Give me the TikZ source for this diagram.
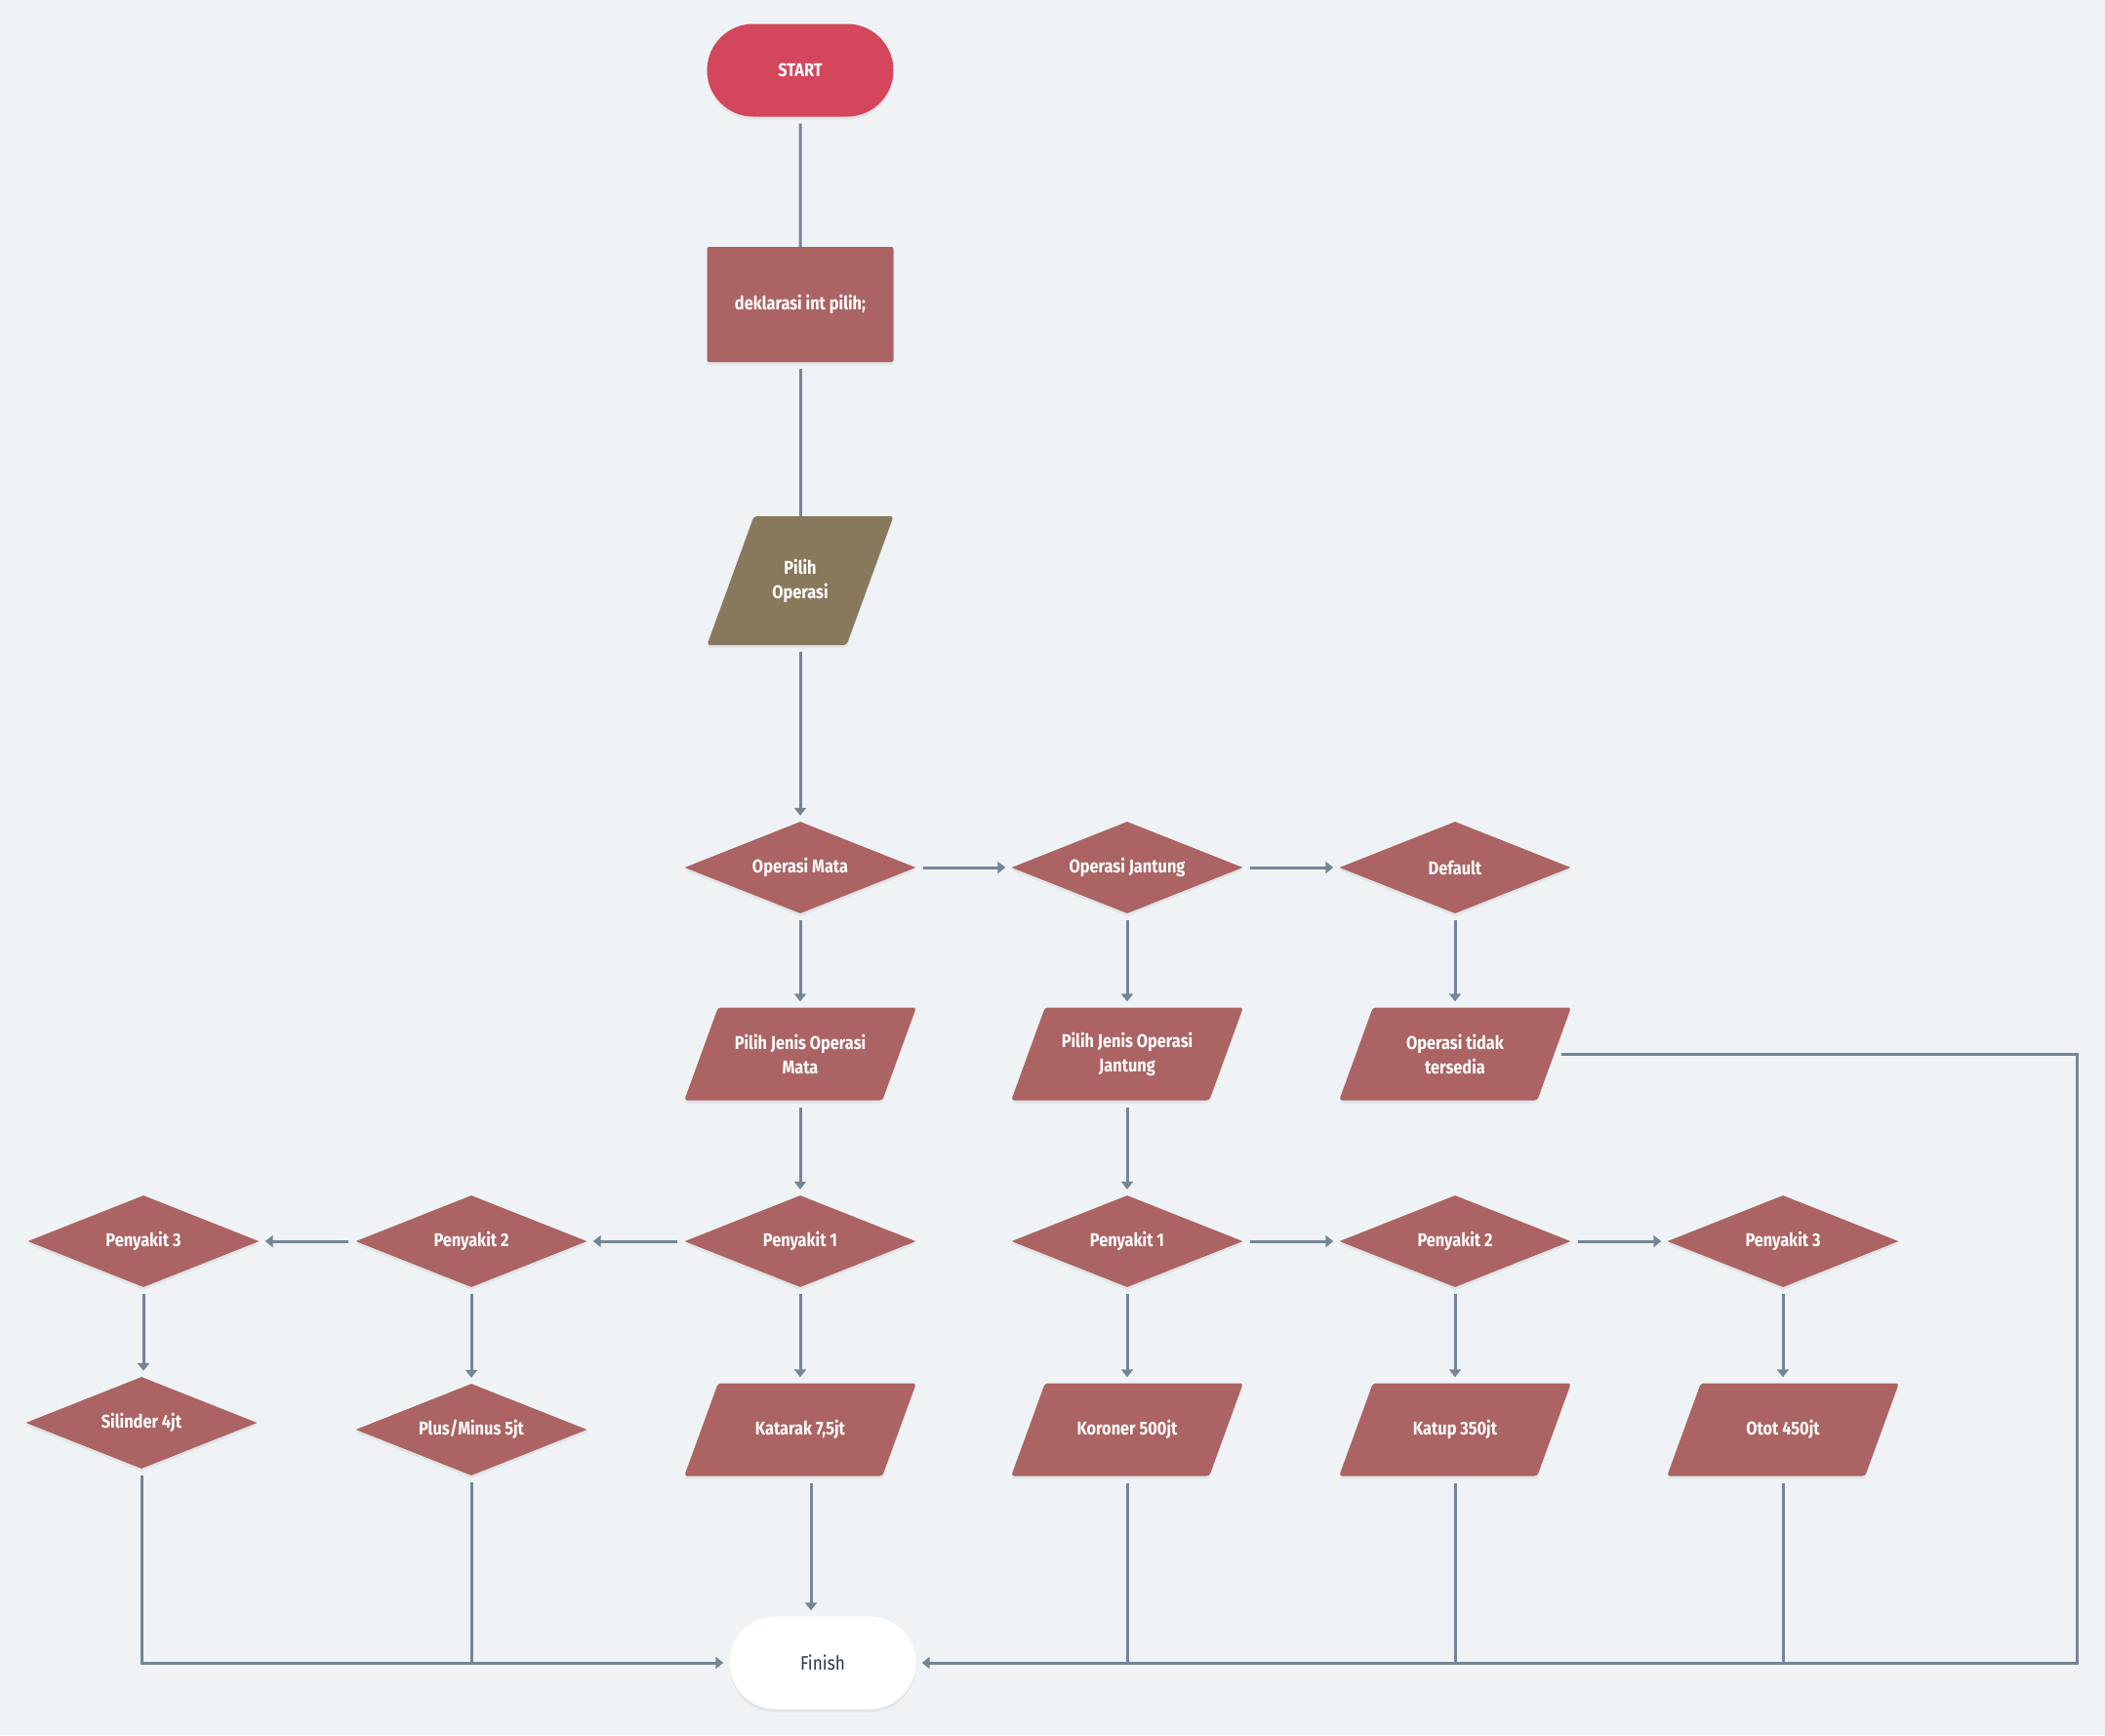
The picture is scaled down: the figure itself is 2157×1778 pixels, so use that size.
\documentclass[tikz,border=0pt]{standalone}
\usepackage{fontspec}
\newfontfamily\lblfont[FakeStretch=0.86]{Fira Sans}
\usetikzlibrary{shapes.geometric,shapes.misc,arrows.meta,shadows}

\definecolor{bgcol}{HTML}{EFF3F6}
\definecolor{boxcol}{HTML}{AB6363}
\definecolor{startcol}{HTML}{D4465C}
\definecolor{inputcol}{HTML}{88785C}
\definecolor{linecol}{HTML}{748596}
\definecolor{darktext}{HTML}{2B3A47}

% slanted input/output box: fill colour, name, x, y, width at mid height, height, text
\newcommand\paranode[7]{%
  \fill[#1, rounded corners=3pt, boxshadow]
    (#3-#5/2+0.182*#6, #4-#6/2) -- (#3+#5/2+0.182*#6, #4-#6/2) --
    (#3+#5/2-0.182*#6, #4+#6/2) -- (#3-#5/2-0.182*#6, #4+#6/2) -- cycle;
  \node[lbl, minimum width=#5, minimum height=#6] (#2) at (#3,#4) {#7};%
}

\begin{document}
\begin{tikzpicture}[x=1pt,y=-1pt,
  boxshadow/.style={drop shadow={opacity=0.12, shadow xshift=0pt, shadow yshift=-3pt}},
  lbl/.style={text=white, align=center, inner sep=0pt, rectangle,
    font=\lblfont\bfseries\fontsize{19}{25}\selectfont},
  base/.style={lbl, boxshadow},
  terminal/.style={base, rounded rectangle, minimum width=191, minimum height=95},
  procbox/.style={base, rectangle, rounded corners=2pt, fill=boxcol,
    minimum width=191, minimum height=118},
  decision/.style={base, diamond, aspect=2.5, fill=boxcol,
    minimum width=237, minimum height=94},
  link/.style={draw=linecol, line width=3pt, shorten <=7pt},
  arr/.style={link, -{Triangle[width=12pt,length=8pt]}, shorten >=6pt}
]
\fill[bgcol] (0,0) rectangle (2157,1778);
\useasboundingbox (0,0) rectangle (2157,1778);

% main column
\node[terminal, fill=startcol] (start) at (820,72) {START};
\node[procbox] (decl) at (820,312) {deklarasi int pilih;};
\paranode{inputcol}{pilih}{820}{595}{143}{132}{Pilih\\Operasi}

% case row
\node[decision] (om) at (820,889) {Operasi Mata};
\node[decision] (oj) at (1155,889) {Operasi Jantung};
\node[decision] (df) at (1491,889) {Default};

\paranode{boxcol}{pm}{820}{1080}{203}{95}{Pilih Jenis Operasi\\Mata}
\paranode{boxcol}{pj}{1155}{1080}{203}{95}{Pilih Jenis Operasi\\Jantung}
\paranode{boxcol}{ot}{1491}{1080}{203}{95}{Operasi tidak\\tersedia}

% eye operations
\node[decision] (m1) at (820,1272) {Penyakit 1};
\node[decision] (m2) at (483,1272) {Penyakit 2};
\node[decision] (m3) at (147,1272) {Penyakit 3};
\node[decision] (sil) at (145,1458) {Silinder 4jt};
\node[decision] (plus) at (483,1465) {Plus/Minus 5jt};
\paranode{boxcol}{kat}{820}{1465}{203}{95}{Katarak 7,5jt}

% heart operations
\node[decision] (j1) at (1155,1272) {Penyakit 1};
\node[decision] (j2) at (1491,1272) {Penyakit 2};
\node[decision] (j3) at (1827,1272) {Penyakit 3};
\paranode{boxcol}{kor}{1155}{1465}{203}{95}{Koroner 500jt}
\paranode{boxcol}{katup}{1491}{1465}{203}{95}{Katup 350jt}
\paranode{boxcol}{otot}{1827}{1465}{203}{95}{Otot 450jt}

\node[terminal, fill=white, text=darktext,
  font=\lblfont\fontsize{20}{25}\selectfont] (fin) at (843,1704) {Finish};

% connectors
\draw[link] (start) -- (decl);
\draw[link] (decl) -- (pilih);
\draw[arr] (pilih) -- (om);
\draw[arr] (om) -- (oj);
\draw[arr] (oj) -- (df);
\draw[arr] (om) -- (pm);
\draw[arr] (oj) -- (pj);
\draw[arr] (df) -- (ot);
\draw[arr] (pm) -- (m1);
\draw[arr] (pj) -- (j1);
\draw[arr] (m1) -- (m2);
\draw[arr] (m2) -- (m3);
\draw[arr] (j1) -- (j2);
\draw[arr] (j2) -- (j3);
\draw[arr] (m3.south) -- (m3.south |- sil.north);
\draw[arr] (m2) -- (plus);
\draw[arr] (m1) -- (kat);
\draw[arr] (j1) -- (kor);
\draw[arr] (j2) -- (katup);
\draw[arr] (j3) -- (otot);

\coordinate (katx) at (831,0);
\draw[arr] (katx |- kat.south) -- (katx |- fin.north);

\draw[arr] (sil.south) -- (sil.south |- fin.west) -- (fin.west);
\draw[link] (plus.south) -- (plus.south |- fin.west);

\coordinate (rc) at (2128,1080);
\draw[arr] (ot.east) -- (rc) -- (rc |- fin.east) -- (fin.east);
\draw[link] (kor.south) -- (kor.south |- fin.east);
\draw[link] (katup.south) -- (katup.south |- fin.east);
\draw[link] (otot.south) -- (otot.south |- fin.east);
\end{tikzpicture}
\end{document}
